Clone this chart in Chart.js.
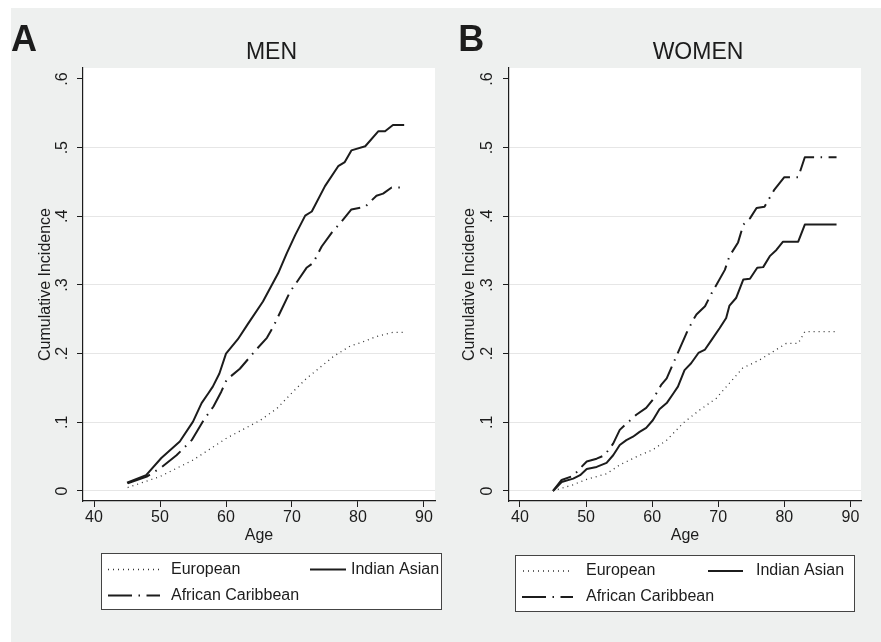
<!DOCTYPE html>
<html>
<head>
<meta charset="utf-8">
<script src="https://cdn.jsdelivr.net/npm/chart.js@4.4.1/dist/chart.umd.min.js"></script>
<style>
    html, body { margin: 0; padding: 0; background: #fff; }
    body { width: 881px; height: 642px; position: relative; overflow: hidden; }
    #backdrop { position: absolute; left: 11px; top: 8px; right: 0; bottom: 0; background: #eef0ef; }
    canvas { position: absolute; top: 0; }
    #chartMen { left: 0; }
    #chartWomen { left: 436px; }
</style>
</head>
<body>
<div id="backdrop"></div>
<canvas id="chartMen" width="446" height="642"></canvas>
<canvas id="chartWomen" width="445" height="642"></canvas>
<script>
// Cumulative incidence by age and ethnic group: men (A) and women (B)

const xTicks = [40, 50, 60, 70, 80, 90];
const yTicks = [0, 0.1, 0.2, 0.3, 0.4, 0.5, 0.6];

// MEN
const menEuropeanAge = [45.1, 50, 55, 60.1, 65.2, 67.7, 70, 72.2, 74, 76.3, 78.8, 81, 82.8, 85.3, 86.9];
const menEuropeanCI  = [0.005, 0.021, 0.045, 0.077, 0.103, 0.12, 0.143, 0.164, 0.178, 0.196, 0.211, 0.218, 0.225, 0.231, 0.231];

const menIndianAge = [45, 47.9, 50.2, 53, 55, 56.3, 57.3, 58, 59, 60, 61.8, 63.3, 65.6, 67.9, 69.2, 70.5, 72, 73, 75, 77, 78, 79, 81.1, 83.1, 84.1, 85.3, 87];
const menIndianCI  = [0.012, 0.023, 0.048, 0.072, 0.101, 0.128, 0.142, 0.152, 0.171, 0.2, 0.221, 0.243, 0.276, 0.317, 0.346, 0.373, 0.401, 0.407, 0.444, 0.473, 0.479, 0.496, 0.502, 0.524, 0.524, 0.533, 0.533];

const menAfricanAge = [45.1, 48, 50.3, 52.5, 54.8, 56.6, 58.1, 59.3, 60.1, 62.1, 64.5, 66.2, 67.2, 68.4, 69.7, 71, 72.2, 73.2, 74.5, 76, 77.3, 79, 81.1, 82.8, 83.8, 85.1, 87];
const menAfricanCI  = [0.011, 0.021, 0.035, 0.052, 0.074, 0.103, 0.123, 0.145, 0.162, 0.178, 0.205, 0.223, 0.24, 0.264, 0.29, 0.308, 0.325, 0.332, 0.356, 0.376, 0.39, 0.41, 0.414, 0.43, 0.433, 0.442, 0.442];

// WOMEN
const womenEuropeanAge = [45, 48, 50.1, 53.1, 55.1, 58.1, 60.1, 62.2, 64.7, 67.2, 69.7, 71.7, 73.7, 76.3, 78.3, 80.3, 82.1, 83.1, 87.9];
const womenEuropeanCI  = [0, 0.009, 0.017, 0.025, 0.038, 0.052, 0.06, 0.074, 0.099, 0.118, 0.135, 0.157, 0.179, 0.191, 0.203, 0.215, 0.215, 0.232, 0.232];

const womenIndianAge = [45, 46.3, 48.05, 49.1, 50.1, 51.6, 53.1, 54.1, 55.1, 56.1, 57.1, 58.1, 59.1, 60.1, 61.1, 62.2, 63.2, 63.9, 64.9, 65.9, 67, 68, 69, 70.2, 71.2, 71.7, 72.7, 73.8, 74.8, 75.9, 76.8, 77.8, 78.8, 79.8, 82.1, 83.1, 87.9];
const womenIndianCI  = [0, 0.013, 0.018, 0.023, 0.032, 0.035, 0.041, 0.052, 0.067, 0.074, 0.079, 0.086, 0.092, 0.103, 0.119, 0.128, 0.142, 0.152, 0.176, 0.186, 0.201, 0.206, 0.22, 0.237, 0.252, 0.27, 0.281, 0.308, 0.309, 0.325, 0.326, 0.342, 0.351, 0.363, 0.363, 0.388, 0.388];

const womenAfricanAge = [45, 46.3, 48.05, 49.3, 50.1, 51.6, 52.8, 54.1, 55.1, 56.1, 57.6, 59.1, 60.1, 61.4, 62.2, 63.2, 64.2, 65.2, 66.2, 66.7, 68, 69, 71, 71.7, 73, 73.8, 74.8, 75.8, 77, 78.5, 80, 82.1, 83.1, 87.9];
const womenAfricanCI  = [0, 0.016, 0.022, 0.035, 0.043, 0.047, 0.052, 0.069, 0.089, 0.098, 0.111, 0.121, 0.133, 0.155, 0.164, 0.186, 0.208, 0.23, 0.249, 0.257, 0.269, 0.288, 0.322, 0.342, 0.362, 0.388, 0.397, 0.412, 0.414, 0.439, 0.457, 0.457, 0.486, 0.486];

const FONT = "'Liberation Sans', Arial, sans-serif";
const INK = '#1c1c1c';

const lineStyles = {
    "European":          { borderColor: '#333333', borderWidth: 1.3, borderDash: [1, 4] },
    "Indian Asian":      { borderColor: INK, borderWidth: 2, borderDash: [] },
    "African Caribbean": { borderColor: INK, borderWidth: 2, borderDash: [24, 6.5, 1.5, 6.5] }
};

function toPoints(ages, values) {
    return ages.map((a, i) => ({ x: a, y: values[i] }));
}

function makeDataset(label, ages, values) {
    return {
        label: label,
        data: toPoints(ages, values),
        ...lineStyles[label],
        borderCapStyle: 'butt',
        borderJoinStyle: 'round',
        pointRadius: 0,
        tension: 0,
        fill: false
    };
}

function formatTick(value) {
    if (value === 0) return '0';
    return String(Math.round(value * 10) / 10).replace(/^0\./, '.');
}

// Plot background, panel letter, title and boxed legend
const panelDecor = {
    id: 'panelDecor',
    beforeDraw(chart) {
        const { ctx, chartArea } = chart;
        ctx.save();
        ctx.fillStyle = '#ffffff';
        ctx.fillRect(chartArea.left, chartArea.top, chartArea.right - chartArea.left, chartArea.bottom - chartArea.top);
        ctx.restore();
    },
    afterDraw(chart, args, opts) {
        const ctx = chart.ctx;
        ctx.save();
        ctx.fillStyle = INK;
        ctx.textBaseline = 'alphabetic';

        ctx.font = "bold 36px " + FONT;
        ctx.textAlign = 'left';
        ctx.fillText(opts.letter, opts.letterX, 50.7);

        ctx.font = "23px " + FONT;
        ctx.textAlign = 'center';
        ctx.fillText(opts.title, opts.titleX, 59.3);

        const lg = opts.legend;
        ctx.fillStyle = '#ffffff';
        ctx.fillRect(lg.x, lg.y, lg.w, lg.h);
        ctx.strokeStyle = '#444';
        ctx.lineWidth = 1;
        ctx.strokeRect(lg.x + 0.5, lg.y + 0.5, lg.w - 1, lg.h - 1);

        ctx.font = "16px " + FONT;
        ctx.textAlign = 'left';
        ctx.textBaseline = 'middle';
        lg.items.forEach(item => {
            const ds = chart.data.datasets.find(d => d.label === item.label);
            ctx.beginPath();
            ctx.setLineDash(ds.borderDash || []);
            ctx.lineWidth = ds.borderWidth;
            ctx.strokeStyle = ds.borderColor;
            ctx.moveTo(item.keyFrom, item.y);
            ctx.lineTo(item.keyTo, item.y);
            ctx.stroke();
            ctx.setLineDash([]);
            ctx.fillStyle = INK;
            ctx.fillText(ds.label, item.textX, item.y);
        });
        ctx.restore();
    }
};

function buildChart(canvasId, datasets, p) {
    return new Chart(document.getElementById(canvasId), {
        type: 'line',
        data: { datasets: datasets },
        options: {
            responsive: false,
            maintainAspectRatio: false,
            animation: false,
            layout: { padding: p.padding },
            plugins: {
                legend: { display: false },
                tooltip: { enabled: false },
                panelDecor: p.decor
            },
            scales: {
                x: {
                    type: 'linear',
                    min: p.xMin,
                    max: p.xMax,
                    afterBuildTicks: scale => { scale.ticks = xTicks.map(v => ({ value: v })); },
                    afterFit: scale => { scale.height = 44; scale.paddingLeft = 0; scale.paddingRight = 0; },
                    grid: { drawOnChartArea: false, tickLength: 6, tickColor: INK, tickWidth: 1 },
                    border: { color: INK, width: 1.2 },
                    ticks: { color: INK, padding: 1, autoSkip: false, maxRotation: 0, font: { family: FONT, size: 16 } },
                    title: { display: true, text: 'Age', color: INK, padding: { top: 0, bottom: 0 }, font: { family: FONT, size: 16 } }
                },
                y: {
                    type: 'linear',
                    min: -0.0146,
                    max: 0.616,
                    afterBuildTicks: scale => { scale.ticks = yTicks.map(v => ({ value: v })); },
                    afterFit: scale => { scale.width = 72; },
                    grid: {
                        color: c => (c.tick && c.tick.value > 0.55) ? 'rgba(0,0,0,0)' : '#e6e6e6',
                        lineWidth: 1,
                        tickLength: 6,
                        tickColor: INK,
                        tickWidth: 1
                    },
                    border: { color: INK, width: 1.2 },
                    ticks: {
                        color: INK,
                        padding: p.yTickPad,
                        autoSkip: false,
                        minRotation: 90,
                        maxRotation: 90,
                        crossAlign: 'center',
                        font: { family: FONT, size: 16 },
                        callback: formatTick
                    },
                    title: { display: true, text: 'Cumulative Incidence', color: INK, padding: { top: p.yTitlePad, bottom: 0 }, font: { family: FONT, size: 16 } }
                }
            }
        },
        plugins: [panelDecor]
    });
}

buildChart('chartMen', [
    makeDataset("European", menEuropeanAge, menEuropeanCI),
    makeDataset("Indian Asian", menIndianAge, menIndianCI),
    makeDataset("African Caribbean", menAfricanAge, menAfricanCI)
], {
    padding: { left: 11, top: 68, right: 11, bottom: 97 },
    xMin: 38.33, xMax: 91.67,
    yTickPad: 7.3,
    yTitlePad: 25,
    decor: {
        letter: 'A', letterX: 11,
        title: 'MEN', titleX: 271.5,
        legend: {
            x: 101, y: 553, w: 341, h: 57,
            items: [
                { label: "European", y: 569.5, keyFrom: 108, keyTo: 160, textX: 171 },
                { label: "Indian Asian", y: 569.5, keyFrom: 310, keyTo: 346, textX: 351 },
                { label: "African Caribbean", y: 595.5, keyFrom: 108, keyTo: 160, textX: 171 }
            ]
        }
    }
});

buildChart('chartWomen', [
    makeDataset("European", womenEuropeanAge, womenEuropeanCI),
    makeDataset("Indian Asian", womenIndianAge, womenIndianCI),
    makeDataset("African Caribbean", womenAfricanAge, womenAfricanCI)
], {
    padding: { left: 1, top: 68, right: 20, bottom: 97 },
    xMin: 38.34, xMax: 91.6,
    yTickPad: 8.3,
    yTitlePad: 23,
    decor: {
        letter: 'B', letterX: 22.3,
        title: 'WOMEN', titleX: 262,
        legend: {
            x: 79, y: 555, w: 340, h: 57,
            items: [
                { label: "European", y: 571, keyFrom: 87, keyTo: 136, textX: 150 },
                { label: "Indian Asian", y: 571, keyFrom: 272, keyTo: 307, textX: 320 },
                { label: "African Caribbean", y: 597, keyFrom: 86, keyTo: 137, textX: 150 }
            ]
        }
    }
});
</script>
</body>
</html>
